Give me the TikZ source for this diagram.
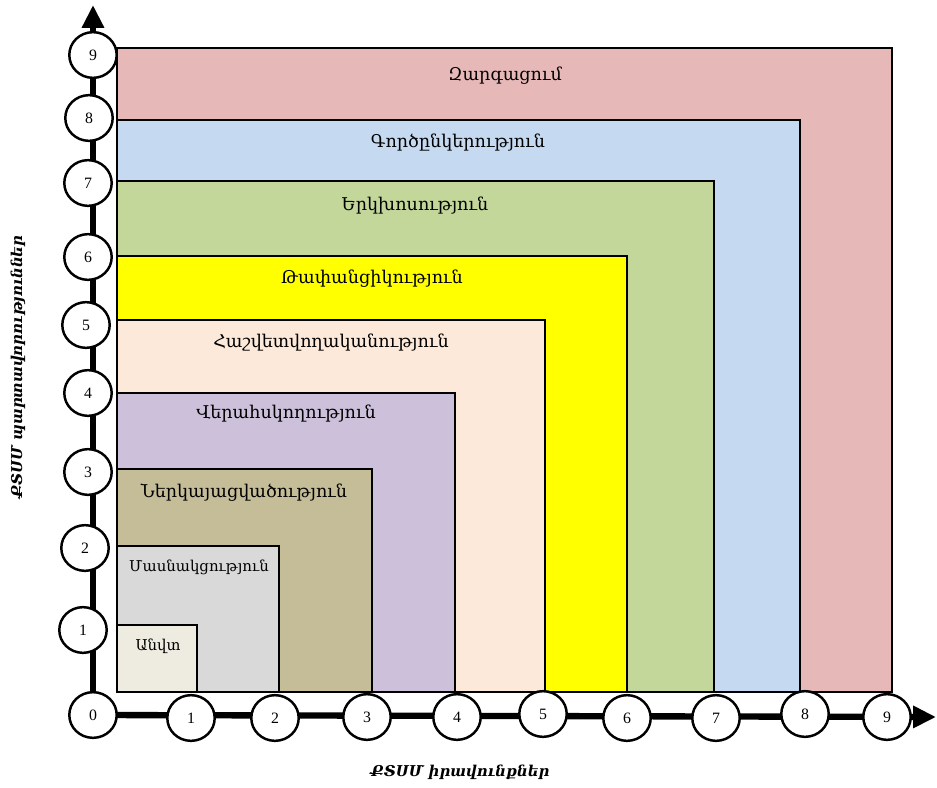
\documentclass[tikz,border=0pt]{standalone}
\usepackage{fontspec}
\usetikzlibrary{shapes.geometric,arrows.meta,backgrounds}
\newfontfamily\armfont{DejaVu Serif}
\newfontfamily\numfont{Liberation Serif}
\definecolor{cZarg}{HTML}{E6B8B7}
\definecolor{cGorc}{HTML}{C5D9F1}
\definecolor{cErk}{HTML}{C4D79B}
\definecolor{cTaf}{HTML}{FFFF00}
\definecolor{cHash}{HTML}{FDE9D9}
\definecolor{cVer}{HTML}{CCC0DA}
\definecolor{cNer}{HTML}{C4BD97}
\definecolor{cMas}{HTML}{D9D9D9}
\definecolor{cAnv}{HTML}{EEECE1}
\begin{document}
\begin{tikzpicture}[x=0.02cm,y=-0.02cm,
  band/.style={draw=black,line width=1.2pt},
  lbl/.style={font=\armfont\fontsize{10}{12}\selectfont},
  small lbl/.style={font=\armfont\fontsize{8.5}{10}\selectfont},
  axlbl/.style={font=\armfont\bfseries\itshape\fontsize{8.5}{10}\selectfont},
  num/.style={ellipse,draw,line width=1.4pt,fill=white,minimum width=27pt,minimum height=26pt,inner sep=0pt,font=\numfont\fontsize{9}{10}\selectfont},
  axis/.style={line width=3.6pt,-{Triangle[width=12pt,length=13pt]}}]
\useasboundingbox (0,0) rectangle (937,788);
\foreach \r/\t/\c in {892/48/cZarg,800/120/cGorc,714/181/cErk,627/256/cTaf,545/320/cHash,455/393/cVer,372/469/cNer,279/546/cMas,197/625/cAnv}
  \draw[band,fill=\c] (117,692) rectangle (\r,\t);
\node[lbl] (l9) at (505,76) {Զարգացում};
\node[lbl] (l8) at (458,143) {Գործընկերություն};
\node[lbl] (l7) at (415,206) {Երկխոսություն};
\node[lbl] (l6) at (372,279) {Թափանցիկություն};
\node[lbl] (l5) at (331,343) {Հաշվետվողականություն};
\node[lbl] (l4) at (286,414) {Վերահսկողություն};
\node[lbl] (l3) at (244,493) {Ներկայացվածություն};
\node[small lbl] (l2) at (199,567) {Մասնակցություն};
\node[small lbl] (l1) at (158,646) {Անվտ};
\node[num] (n0) at (93,715) {0};
\node[num] (x1) at (191,718) {1};
\node[num] (x2) at (275,718) {2};
\node[num] (x3) at (367,717) {3};
\node[num] (x4) at (457,717) {4};
\node[num] (x5) at (543,714) {5};
\node[num] (x6) at (627,718) {6};
\node[num] (x7) at (716,718) {7};
\node[num] (x8) at (805,714) {8};
\node[num] (x9) at (887,717) {9};
\node[num] (y1) at (83,630) {1};
\node[num] (y2) at (85,548) {2};
\node[num] (y3) at (88,472) {3};
\node[num] (y4) at (88,393) {4};
\node[num] (y5) at (86,325) {5};
\node[num] (y6) at (88,257) {6};
\node[num] (y7) at (88,183) {7};
\node[num] (y8) at (89,118) {8};
\node[num] (y9) at (93,55) {9};
\coordinate (xend) at (936,717);
\coordinate (yend) at (93,5);
\begin{scope}[on background layer]
\draw[axis] (n0.center) -- (xend);
\draw[axis] (n0.center) -- (yend);
\end{scope}
\node[axlbl] (xlab) at (460,772) {ՔՏՍՄ իրավունքներ};
\node[axlbl,rotate=90] (ylab) at (18,367) {ՔՏՍՄ պարտավորություններ};
\end{tikzpicture}
\end{document}
